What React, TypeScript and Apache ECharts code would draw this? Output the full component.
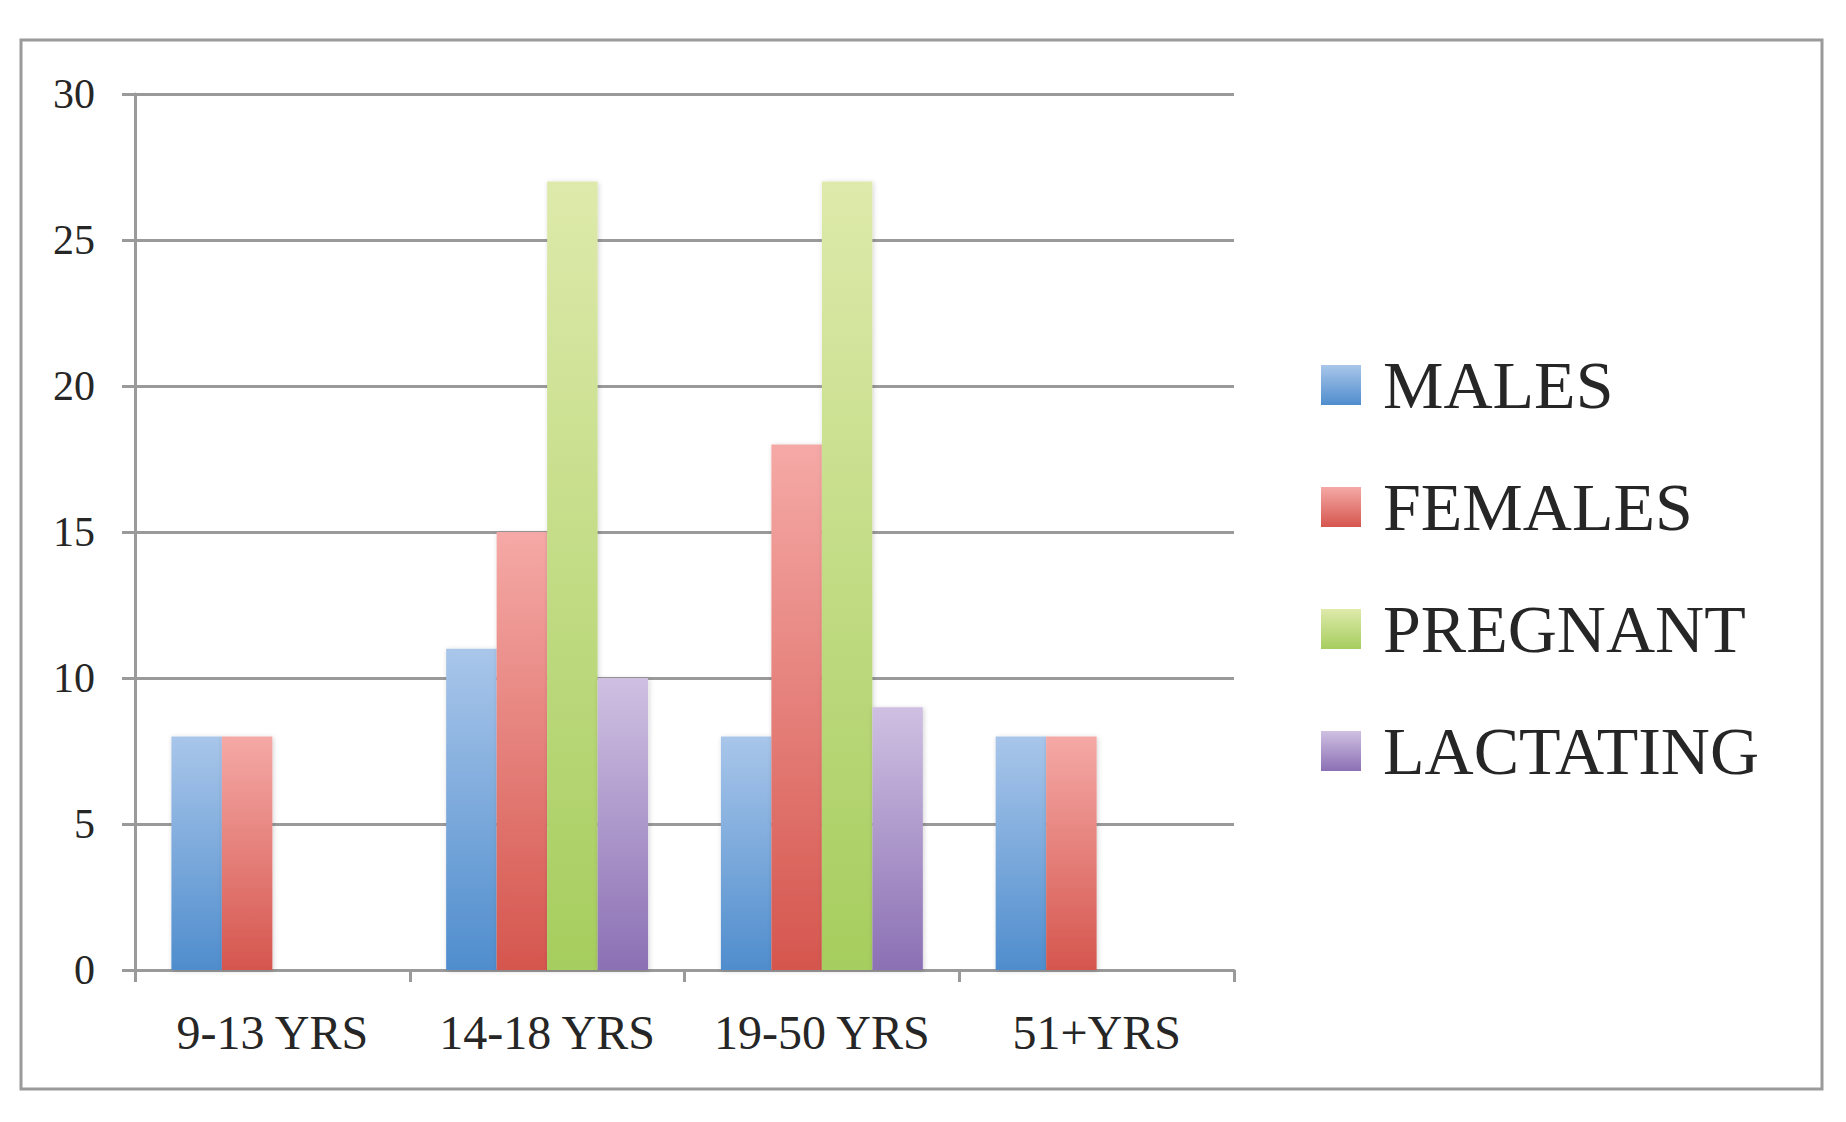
import React, { useEffect, useRef } from "react";
import * as echarts from "echarts";

const categories = ["9-13 YRS", "14-18 YRS", "19-50 YRS", "51+YRS"];
const seriesNames = ["MALES", "FEMALES", "PREGNANT", "LACTATING"];
const males = [8, 11, 8, 8];
const females = [8, 15, 18, 8];
const pregnant = [null, 27, 27, null];
const lactating = [null, 10, 9, null];
const yTicks = { min: 0, max: 30, interval: 5 };

const gradients: [string, string][] = [
  ["#a9c6ea", "#4f8dcd"],
  ["#f5a9a6", "#d5564e"],
  ["#deeaab", "#a6cd5e"],
  ["#cfc0e2", "#8b70b4"],
];

const FONT = "'Liberation Serif', 'Times New Roman', serif";
const GRID_COLOR = "#9a9a9a";

export default function App() {
  const ref = useRef<HTMLDivElement>(null);
  useEffect(() => {
    if (!ref.current) return;
    const chart = echarts.init(ref.current, undefined, { renderer: "svg" });
    const data = [males, females, pregnant, lactating];
    chart.setOption({
      animation: false,
      backgroundColor: "#ffffff",
      graphic: [
        {
          type: "rect",
          shape: { x: 21, y: 40, width: 1801, height: 1049 },
          style: { fill: "none", stroke: GRID_COLOR, lineWidth: 3 },
          silent: true,
        },
      ],
      grid: { left: 135, top: 94, width: 1099, height: 876 },
      legend: {
        orient: "vertical",
        left: 1321,
        top: 351,
        padding: 0,
        itemWidth: 40,
        itemHeight: 40,
        itemGap: 54,
        icon: "rect",
        data: seriesNames,
        textStyle: {
          fontFamily: FONT,
          fontSize: 68,
          color: "#262626",
          lineHeight: 40,
          padding: [24, 0, 0, 17],
        },
      },
      xAxis: {
        type: "category",
        data: categories,
        axisLine: { lineStyle: { color: GRID_COLOR, width: 3 } },
        axisTick: { show: true, interval: 0, length: 12, lineStyle: { color: GRID_COLOR, width: 3 } },
        axisLabel: { interval: 0, fontFamily: FONT, fontSize: 48, color: "#262626", margin: 38 },
      },
      yAxis: {
        type: "value",
        min: yTicks.min,
        max: yTicks.max,
        interval: yTicks.interval,
        axisLine: { show: true, lineStyle: { color: GRID_COLOR, width: 3 } },
        axisTick: { show: true, length: 13, lineStyle: { color: GRID_COLOR, width: 3 } },
        splitLine: { lineStyle: { color: GRID_COLOR, width: 3 } },
        axisLabel: { fontFamily: FONT, fontSize: 42, color: "#262626", margin: 40 },
      },
      series: seriesNames.map((name, i) => ({
        name,
        type: "bar",
        data: data[i],
        barGap: "0%",
        barCategoryGap: "26.5%",
        itemStyle: {
          color: new echarts.graphic.LinearGradient(0, 0, 0, 1, [
            { offset: 0, color: gradients[i][0] },
            { offset: 1, color: gradients[i][1] },
          ]),
          shadowColor: "rgba(0,0,0,0.18)",
          shadowBlur: 5,
          shadowOffsetX: 1,
          shadowOffsetY: 1,
        },
      })),
    });
    return () => chart.dispose();
  }, []);
  return (
    <div
      ref={ref}
      style={{ position: "absolute", left: 0, top: 0, width: 1846, height: 1122 }}
    />
  );
}
